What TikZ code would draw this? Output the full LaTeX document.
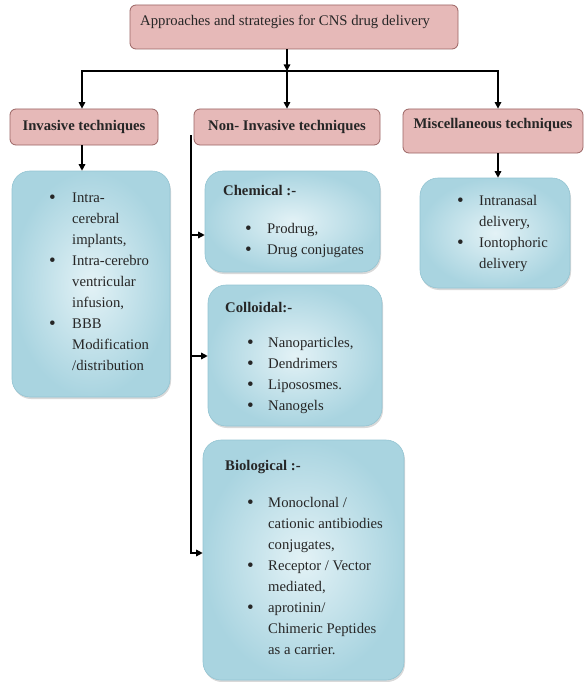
\documentclass[tikz,border=0pt]{standalone}
\usepackage{fontspec}
\setmainfont{Liberation Serif}
\usepackage{tikz}
\usetikzlibrary{arrows.meta,shadows}
\usepackage{xcolor}
\definecolor{cpink}  {HTML}{E6B9B8}
\definecolor{cpinkd} {HTML}{9A6463}
\definecolor{cblueo} {HTML}{A9D4E0}
\definecolor{cbluei} {HTML}{E3F2F6}
\definecolor{cblued} {HTML}{93C4D2}
\definecolor{ctext}  {HTML}{262626}

\newcommand{\boxfont}{\fontsize{14.7}{21}\selectfont}
\newcommand{\blt}{\raisebox{-1.2pt}{\fontsize{19}{21}\selectfont\textbullet}}

\begin{document}
\begin{tikzpicture}[x=1pt, y=-1pt,
  arr/.style     = {-{Triangle[length=6.5pt,width=6.5pt]}, line width=1.4pt},
  headbox/.style = {rectangle, rounded corners=6pt, draw=cpinkd, fill=cpink,
                    line width=0.8pt, inner sep=0pt,
                    font=\boxfont\bfseries, text=black!85},
  listbox/.style = {rectangle, rounded corners=18pt, draw=cblued, line width=0.6pt,
                    inner color=cbluei, outer color=cblueo, inner sep=0pt,
                    drop shadow={opacity=0.3, shadow xshift=1pt, shadow yshift=-2pt}},
  ltxt/.style    = {anchor=base west, inner sep=0pt, font=\boxfont, text=ctext},
  lhead/.style   = {ltxt, font=\boxfont\bfseries, text=black!85}
]
\useasboundingbox (0,0) rectangle (584,682);

%% ── Heading boxes ─────────────────────────────────────────────────────────
\node[headbox, minimum width=328pt, minimum height=44pt] (title)  at (294,27)  {};
\node[anchor=west, inner sep=0pt, font=\boxfont, text=ctext] (titletxt) at (140,22)
  {Approaches and strategies for CNS drug delivery};
\node[headbox, minimum width=148pt, minimum height=36pt] (inv)    at (84,127)  {Invasive techniques};
\node[headbox, minimum width=186pt, minimum height=36pt] (noninv) at (287,127) {Non- Invasive techniques};
\node[headbox, minimum width=180pt, minimum height=44pt] (misc)   at (493,131) {};
\node[font=\boxfont\bfseries, text=black!85, inner sep=0pt] (misctxt) at (493,125) {Miscellaneous techniques};

%% ── Content boxes ─────────────────────────────────────────────────────────
\node[listbox, minimum width=158pt, minimum height=226pt] (invbox)  at (91,284)    {};
\node[listbox, minimum width=175pt, minimum height=101pt] (chem)    at (292.5,221.5) {};
\node[listbox, minimum width=174pt, minimum height=141pt] (col)     at (295,355.5) {};
\node[listbox, minimum width=201pt, minimum height=240pt] (bio)     at (303.5,560) {};
\node[listbox, minimum width=150pt, minimum height=110pt] (miscbox) at (495,233)   {};

%% ── Box texts ─────────────────────────────────────────────────────────────
\node[ltxt] (invlist) at (49,202) {\begin{tabular}[t]{@{}p{23pt}@{}l@{}}
  \blt & Intra-\\ & cerebral\\ & implants,\\
  \blt & Intra-cerebro\\ & ventricular\\ & infusion,\\
  \blt & BBB\\ & Modification\\ & /distribution\end{tabular}};

\node[lhead] (chemhd) at (223,195) {Chemical :-};
\node[ltxt] (chemlist) at (245,233) {\begin{tabular}[t]{@{}p{22pt}@{}l@{}}
  \blt & Prodrug,\\ \blt & Drug conjugates\end{tabular}};

\node[lhead] (colhd) at (225,312) {Colloidal:-};
\node[ltxt] (collist) at (247,347) {\begin{tabular}[t]{@{}p{21pt}@{}l@{}}
  \blt & Nanoparticles,\\ \blt & Dendrimers\\
  \blt & Lipososmes.\\ \blt & Nanogels\end{tabular}};

\node[lhead] (biohd) at (225,470) {Biological :-};
\node[ltxt] (biolist) at (247,507) {\begin{tabular}[t]{@{}p{21pt}@{}l@{}}
  \blt & Monoclonal /\\ & cationic antibiodies\\ & conjugates,\\
  \blt & Receptor / Vector\\ & mediated,\\
  \blt & aprotinin/\\ & Chimeric Peptides\\ & as a carrier.\end{tabular}};

\node[ltxt] (misclist) at (457,205) {\begin{tabular}[t]{@{}p{22pt}@{}l@{}}
  \blt & Intranasal\\ & delivery,\\
  \blt & Iontophoric\\ & delivery\end{tabular}};

%% ── Arrows ────────────────────────────────────────────────────────────────
\coordinate (jn) at (287,71);
% title → split → three groups
\draw[arr] (noninv.north |- title.south) -- (jn);
\draw[arr] (jn) -- (noninv.north);
\draw[arr] (jn) -| ([xshift=-2pt]inv.north);
\draw[arr] (jn) -| ([xshift=5pt]misc.north);

% groups → content boxes
\draw[arr] ([xshift=-2pt]inv.south) -- ([xshift=-2pt]inv.south |- invbox.north);
\draw[arr] ([xshift=5pt]misc.south) -- ([xshift=5pt]misc.south |- miscbox.north);

% non-invasive trunk (left side, down)
\coordinate (trunk) at (191,135);
\coordinate (tchem) at (191,235);
\coordinate (tcol)  at (191,356);
\coordinate (tbio)  at (191,553);
\draw[arr] (trunk) |- (tbio -| bio.west);
\draw[arr] (tchem) -- (tchem -| chem.west);
\draw[arr] (tcol)  -- (tcol -| col.west);

\end{tikzpicture}
\end{document}
